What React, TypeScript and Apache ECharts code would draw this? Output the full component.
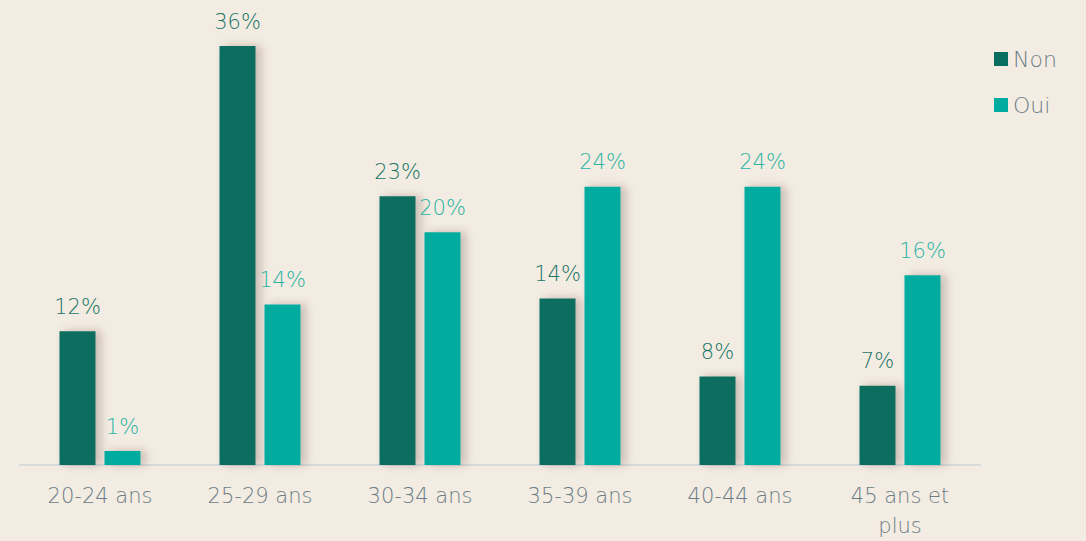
import React, { useEffect, useRef } from "react";
import * as echarts from "echarts";

const categories = ["20-24 ans", "25-29 ans", "30-34 ans", "35-39 ans", "40-44 ans", "45 ans et\nplus"];
const nonValues = [11.5, 36, 23.1, 14.3, 7.6, 6.8];
const ouiValues = [1.2, 13.8, 20, 23.9, 23.9, 16.3];
const seriesNames = ["Non", "Oui"];

const FONT = "'DejaVu Sans', sans-serif";
const W = 200;

export default function App() {
  const ref = useRef<HTMLDivElement>(null);
  useEffect(() => {
    if (!ref.current) return;
    const chart = echarts.init(ref.current, undefined, { renderer: "svg" });
    const shadow = {
      shadowColor: "rgba(60,40,20,0.25)",
      shadowBlur: 8,
      shadowOffsetX: 5,
      shadowOffsetY: 0,
    };
    chart.setOption({
      animation: false,
      backgroundColor: "#f3ece2",
      grid: { left: 20, right: 106, top: 46, bottom: 71, containLabel: false },
      legend: {
        orient: "vertical",
        left: 989,
        top: 43,
        itemWidth: 14,
        itemHeight: 14,
        itemGap: 24,
        icon: "rect",
        textStyle: { color: "#6b7d87", fontSize: 22, fontFamily: FONT, fontWeight: W },
        data: seriesNames,
      },
      xAxis: {
        type: "category",
        data: categories,
        axisLine: { lineStyle: { color: "#d8dbdb", width: 2 } },
        axisTick: { show: false },
        axisLabel: {
          color: "#6b7d87",
          fontSize: 21,
          fontFamily: FONT,
          fontWeight: W,
          margin: 16,
          lineHeight: 30,
        },
      },
      yAxis: {
        type: "value",
        min: 0,
        max: 36,
        show: false,
        splitLine: { show: false },
      },
      series: [
        {
          name: seriesNames[0],
          type: "bar",
          data: nonValues,
          barWidth: 36,
          barGap: "25%",
          itemStyle: { color: "#086e60", ...shadow },
          label: {
            show: true,
            position: "top",
            distance: 14,
            color: "#1a7565",
            fontSize: 21,
            fontFamily: FONT,
            fontWeight: W,
            formatter: (p: any) => Math.round(p.value) + "%",
          },
        },
        {
          name: seriesNames[1],
          type: "bar",
          data: ouiValues,
          barWidth: 36,
          itemStyle: { color: "#00ac9f", ...shadow },
          label: {
            show: true,
            position: "top",
            distance: 14,
            color: "#2bb3a4",
            fontSize: 21,
            fontFamily: FONT,
            fontWeight: W,
            formatter: (p: any) => Math.round(p.value) + "%",
          },
        },
      ],
    });
    return () => chart.dispose();
  }, []);
  return (
    <div
      ref={ref}
      style={{ position: "fixed", left: 0, top: 0, width: 1086, height: 541 }}
    />
  );
}
